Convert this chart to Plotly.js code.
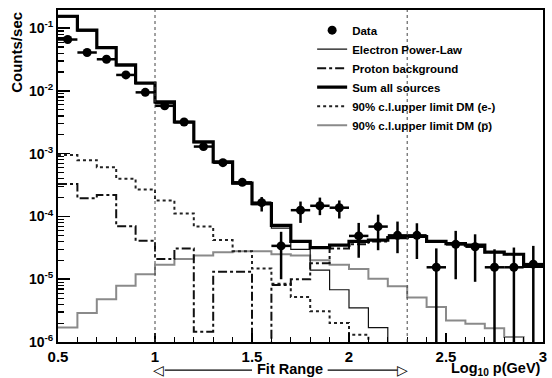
<!DOCTYPE html>
<html>
<head>
<meta charset="utf-8">
<script src="https://cdn.plot.ly/plotly-3.0.1.min.js"></script>
<style>html,body{margin:0;padding:0;background:#fff;}#chart{width:552px;height:378px;}</style>
</head>
<body>
<div id="chart"></div>
<script>
// Bin edges of log10 p (GeV)
const binEdges = [0.5,0.6,0.7,0.8,0.9,1.0,1.1,1.2,1.3,1.4,1.5,1.6,1.7,1.8,1.9,2.0,2.1,2.2,2.3,2.4,2.5,2.6,2.7,2.8,2.9,3.0];

// Histogram contents per bin (counts/sec); null = below the plotted range
const sumAllSources = [0.155,0.093,0.049,0.026,0.0134,0.0067,0.0032,0.00155,7.4e-4,3.4e-4,1.6e-4,7.2e-5,4.0e-5,3.2e-5,3.5e-5,4.0e-5,4.2e-5,4.6e-5,4.8e-5,4.0e-5,3.7e-5,3.5e-5,2.7e-5,2.5e-5,1.6e-5];
const electronPowerLaw = [0.15,0.09,0.048,0.025,0.013,0.0063,0.0031,0.0015,7.2e-4,3.3e-4,1.55e-4,6.5e-5,3.0e-5,1.4e-5,6.8e-6,3.5e-6,1.7e-6,null,null,null,null,null,null,null,null];
const protonBackground = [3.3e-4,1.95e-4,2.2e-4,7.0e-5,4.1e-5,2.1e-5,3.1e-5,1.45e-6,1.32e-5,1.32e-5,null,8.1e-6,1.0e-5,1.8e-5,3.1e-5,3.6e-5,4.0e-5,4.6e-5,4.8e-5,4.0e-5,3.7e-5,3.5e-5,2.7e-5,2.5e-5,1.6e-5];
const dmElectronLimit = [9.5e-4,7.9e-4,6.1e-4,4.0e-4,2.7e-4,1.8e-4,1.12e-4,6.9e-5,4.2e-5,2.8e-5,1.48e-5,8.5e-6,5.2e-6,3.1e-6,2.0e-6,1.3e-6,null,null,null,null,null,null,null,null,null];
const dmAntiprotonLimit = [1.7e-6,2.9e-6,4.8e-6,7.9e-6,1.2e-5,1.7e-5,2.1e-5,2.4e-5,2.7e-5,2.8e-5,2.8e-5,2.5e-5,2.4e-5,2.0e-5,1.7e-5,1.45e-5,1.02e-5,7.7e-6,5.1e-6,3.6e-6,2.2e-6,1.95e-6,1.65e-6,1.2e-6,null];

// Measured data per bin: central value, upper and lower edge of error bar (null = extends below range)
const dataRate = [0.066,0.041,0.032,0.018,0.0095,0.0058,0.0032,0.0013,7.2e-4,3.5e-4,1.66e-4,3.4e-5,1.26e-4,1.48e-4,1.38e-4,4.9e-5,6.9e-5,5.0e-5,5.0e-5,1.55e-5,3.6e-5,3.3e-5,1.55e-5,1.55e-5,1.74e-5];
const dataHigh = [0.069,0.043,0.034,0.019,0.0100,0.0061,0.0034,0.0014,7.8e-4,3.9e-4,2.04e-4,5.7e-5,1.73e-4,2.0e-4,1.8e-4,7.9e-5,1.07e-4,8.3e-5,7.8e-5,3.1e-5,5.9e-5,5.2e-5,3.0e-5,3.2e-5,3.4e-5];
const dataLow = [0.063,0.039,0.030,0.017,0.0090,0.0055,0.0030,0.0012,6.6e-4,3.1e-4,1.2e-4,1.0e-5,7.9e-5,1.05e-4,9.3e-5,2.2e-5,2.9e-5,2.6e-5,2.1e-5,null,1.0e-5,9.1e-6,null,null,null];

const fitRange = [1.0, 2.3];
const yTickExponents = [-6, -5, -4, -3, -2, -1];

const FLOOR = 1e-8; // below the visible range, so steps drop off the bottom axis
const nBins = binEdges.length - 1;
const centers = [];
for (let i = 0; i < nBins; i++) centers.push((binEdges[i] + binEdges[i+1]) / 2);
const binHalfWidth = (binEdges[1] - binEdges[0]) / 2;

function stepY(vals) {
  const y = vals.map(v => (v === null ? FLOOR : v));
  y.push(y[y.length - 1]);
  return y;
}
function histTrace(name, vals, line) {
  return {x: binEdges, y: stepY(vals), type: 'scatter', mode: 'lines',
          line: Object.assign({shape: 'hv'}, line), name: name};
}

const PBAR = '90% c.l.upper limit DM (p\u0305)';
const traces = [
  histTrace(PBAR, dmAntiprotonLimit, {color: '#8a8a8a', width: 2}),
  histTrace('90% c.l.upper limit DM (e-)', dmElectronLimit, {color: '#222', width: 2, dash: 'dot'}),
  histTrace('Proton background', protonBackground, {color: '#111', width: 2, dash: 'dashdot'}),
  histTrace('Electron Power-Law', electronPowerLaw, {color: '#111', width: 1.2}),
  histTrace('Sum all sources', sumAllSources, {color: '#000', width: 3.2}),
  {
    x: centers, y: dataRate, type: 'scatter', mode: 'markers', name: 'Data',
    marker: {color: '#000', size: 9, symbol: 'circle'},
    error_y: {type: 'data', symmetric: false,
      array: dataHigh.map((h, i) => h - dataRate[i]),
      arrayminus: dataLow.map((l, i) => dataRate[i] - (l === null ? FLOOR : l)),
      color: '#000', thickness: 2.5, width: 0},
    error_x: {type: 'constant', value: binHalfWidth, color: '#000', thickness: 2.5, width: 0}
  }
];
const order = ['Data','Electron Power-Law','Proton background','Sum all sources','90% c.l.upper limit DM (e-)',PBAR];
traces.forEach(t => { t.legendrank = order.indexOf(t.name) + 1; });

const FONT = 'Liberation Sans, Arial, Helvetica, sans-serif';
const arrowY = -0.085;
const textY = -0.08;
const leftLine = [fitRange[0] + 0.05, fitRange[0] + 0.5];
const rightLine = [fitRange[1] - 0.41, fitRange[1] - 0.05];
const layout = {
  width: 552, height: 378,
  margin: {l: 58, r: 9, t: 10, b: 36},
  paper_bgcolor: '#fff', plot_bgcolor: '#fff',
  showlegend: true,
  legend: {x: 0.524, y: 0.983, xanchor: 'left', yanchor: 'top', bgcolor: 'rgba(0,0,0,0)',
           font: {family: FONT, size: 11.5, color: '#000', weight: 'bold'}, traceorder: 'normal', tracegroupgap: 0},
  xaxis: {
    range: [binEdges[0], binEdges[binEdges.length - 1]], dtick: 0.5, tick0: 0.5,
    showgrid: false, zeroline: false, showline: true, linecolor: '#000', linewidth: 2, mirror: true,
    ticks: 'inside', ticklen: 9, tickwidth: 1.5, tickcolor: '#000',
    minor: {dtick: 0.1, ticks: 'inside', ticklen: 5, tickwidth: 1.2, tickcolor: '#000', showgrid: false},
    tickfont: {family: FONT, size: 15, color: '#000', weight: 'bold'}
  },
  yaxis: {
    type: 'log', range: [-6, -0.71], tickmode: 'array',
    tickvals: yTickExponents.map(e => Math.pow(10, e)),
    ticktext: yTickExponents.map(e => '10<sup>' + e + '</sup>'),
    showgrid: false, zeroline: false, showline: true, linecolor: '#000', linewidth: 2, mirror: true,
    ticks: 'inside', ticklen: 12, tickwidth: 1.5, tickcolor: '#000',
    minor: {dtick: 'D1', ticks: 'inside', ticklen: 6, tickwidth: 1.2, tickcolor: '#000', showgrid: false},
    tickfont: {family: FONT, size: 14, color: '#000', weight: 'bold'}
  },
  shapes: fitRange.map(v => ({type: 'line', xref: 'x', yref: 'paper', x0: v, x1: v, y0: 0, y1: 1,
    line: {color: '#444', width: 1, dash: 'dot'}})).concat([
    {type: 'line', xref: 'x', yref: 'paper', x0: leftLine[0], x1: leftLine[1], y0: arrowY, y1: arrowY,
     line: {color: '#000', width: 1.3}},
    {type: 'line', xref: 'x', yref: 'paper', x0: rightLine[0], x1: rightLine[1], y0: arrowY, y1: arrowY,
     line: {color: '#000', width: 1.3}}
  ]),
  annotations: [
    {text: 'Counts/sec', xref: 'paper', yref: 'paper', x: -0.086, y: 1.0, xanchor: 'center', yanchor: 'top',
     textangle: -90, showarrow: false, font: {family: FONT, size: 15, color: '#000', weight: 'bold'}},
    {text: 'Log<sub>10</sub> p(GeV)', xref: 'paper', yref: 'paper', x: 1.0, y: textY, xanchor: 'right', yanchor: 'middle',
     showarrow: false, font: {family: FONT, size: 14.5, color: '#000', weight: 'bold'}},
    {text: 'Fit Range', xref: 'x', yref: 'paper', x: (leftLine[1] + rightLine[0]) / 2, y: textY, xanchor: 'center', yanchor: 'middle',
     showarrow: false, font: {family: FONT, size: 14.5, color: '#000', weight: 'bold'}},
    {text: '\u25C1', xref: 'x', yref: 'paper', x: fitRange[0], y: arrowY, xanchor: 'left', yanchor: 'middle',
     showarrow: false, xshift: -4, font: {family: 'DejaVu Sans', size: 14, color: '#000'}},
    {text: '\u25B7', xref: 'x', yref: 'paper', x: fitRange[1], y: arrowY, xanchor: 'right', yanchor: 'middle',
     showarrow: false, xshift: 3, font: {family: 'DejaVu Sans', size: 14, color: '#000'}}
  ]
};

Plotly.newPlot('chart', traces, layout, {displayModeBar: false, staticPlot: true});
</script>
</body>
</html>
